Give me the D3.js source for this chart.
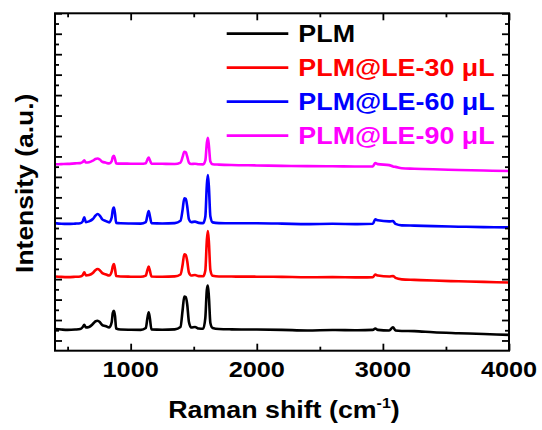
<!DOCTYPE html>
<html>
<head>
<meta charset="utf-8">
<script src="https://cdn.jsdelivr.net/npm/d3@7"></script>
<style>
  html, body { margin: 0; padding: 0; background: #fff; }
  svg { display: block; }
  text { font-family: "Liberation Sans", Arial, sans-serif; font-weight: bold; }
</style>
</head>
<body>
<svg id="chart" width="542" height="430"></svg>
<script>
// ---- data ----
const shifts = [400, 450, 500, 560, 600, 620, 632, 645, 670, 700, 720, 738, 755, 775, 800, 830, 850, 858, 867, 876, 885, 920, 1000, 1080, 1120, 1133, 1143, 1152, 1165, 1250, 1350, 1395, 1412, 1425, 1437, 1448, 1462, 1480, 1510, 1540, 1575, 1592, 1604, 1612, 1620, 1632, 1650, 1700, 1800, 2000, 2200, 2400, 2600, 2800, 2920, 2940, 2960, 3050, 3080, 3100, 3150, 3250, 3400, 3600, 3800, 4000];

const plm = [11.2, 10.7, 10.4, 10.7, 11.2, 13.2, 15.4, 12.7, 13.2, 16.1, 18.6, 19.3, 18.1, 15.1, 14.2, 12.7, 18.1, 26.9, 29.1, 23.9, 11.7, 10.7, 10.5, 10.4, 12.2, 22.0, 27.6, 22.0, 10.9, 10.5, 10.9, 13.2, 29.8, 43.0, 42.5, 35.7, 18.1, 12.7, 13.2, 11.7, 11.4, 22.0, 49.4, 53.6, 43.5, 17.1, 12.2, 11.2, 10.9, 10.7, 10.4, 9.8, 10.2, 10.0, 10.4, 11.7, 10.4, 9.8, 12.9, 9.8, 9.3, 9.1, 8.0, 7.1, 6.3, 5.5];

const plm30 = [62.6, 62.2, 62.0, 62.3, 62.6, 64.0, 66.7, 63.6, 64.0, 66.0, 68.7, 69.9, 68.8, 65.8, 64.8, 63.5, 67.5, 72.5, 74.8, 70.0, 63.0, 62.6, 62.4, 62.3, 63.5, 69.0, 72.2, 68.5, 62.6, 62.4, 62.7, 64.5, 74.0, 84.3, 83.6, 78.0, 66.5, 63.6, 64.0, 62.9, 62.8, 68.5, 98.0, 107.1, 97.0, 69.0, 63.3, 62.6, 62.5, 62.4, 62.2, 61.8, 62.0, 61.7, 61.8, 64.5, 63.5, 62.6, 63.1, 61.2, 59.8, 59.3, 58.6, 57.9, 57.3, 56.7];

const plm60 = [114.8, 114.2, 114.0, 114.3, 114.6, 116.5, 120.5, 115.8, 116.5, 118.8, 122.0, 123.7, 122.2, 118.5, 117.0, 115.5, 120.5, 127.5, 129.9, 124.0, 115.0, 114.6, 114.4, 114.3, 115.8, 122.5, 126.6, 122.0, 114.8, 114.4, 114.8, 117.0, 128.0, 139.0, 138.5, 131.5, 118.5, 115.8, 116.2, 115.0, 114.8, 121.0, 152.0, 161.8, 151.0, 121.5, 115.5, 114.8, 114.6, 114.6, 114.3, 113.8, 114.1, 113.8, 114.2, 118.6, 117.5, 116.5, 116.9, 114.0, 112.6, 112.3, 111.8, 111.3, 110.9, 110.6];

const plm90 = [172.3, 172.5, 172.7, 173.2, 173.5, 174.5, 176.2, 174.0, 174.3, 175.8, 177.5, 178.0, 177.0, 174.8, 174.0, 173.2, 175.5, 179.5, 180.7, 177.5, 173.2, 173.0, 172.9, 172.8, 173.4, 177.0, 178.8, 176.5, 173.0, 172.8, 172.6, 174.0, 179.5, 184.6, 184.0, 180.0, 174.0, 172.6, 172.8, 172.3, 172.2, 176.0, 193.0, 198.3, 191.0, 175.0, 172.3, 172.0, 171.6, 171.2, 170.8, 170.5, 170.4, 170.1, 170.3, 173.6, 172.5, 171.5, 170.2, 169.8, 168.4, 168.0, 167.4, 166.8, 166.2, 165.7];

const seriesNames = ["PLM", "PLM@LE-30 μL", "PLM@LE-60 μL", "PLM@LE-90 μL"];
const seriesColors = ["#000000", "#ff0000", "#0000ff", "#ff00ff"];
const seriesValues = [plm, plm30, plm60, plm90];

const xMajorTicks = [1000, 2000, 3000, 4000];
const xMinorTicks = [500, 1500, 2500, 3500];
const xDomain = [400, 4000];
const yDomain = [-10, 320];
const xTitle = "Raman shift (cm";
const xTitleSup = "-1";
const yTitle = "Intensity (a.u.)";

// ---- layout ----
const mLeft = 55, mRight = 509, mTop = 13.3, mBottom = 350.7;
const svg = d3.select("#chart");

const x = d3.scaleLinear().domain(xDomain).range([mLeft, mRight]);
const y = d3.scaleLinear().domain(yDomain).range([mBottom, mTop]);

// ---- series ----
const line = d3.line()
  .x((d, i) => x(shifts[i]))
  .y(d => y(d))
  .curve(d3.curveMonotoneX);

seriesValues.forEach((vals, k) => {
  svg.append("path")
    .datum(vals)
    .attr("d", line)
    .attr("fill", "none")
    .attr("stroke", seriesColors[k])
    .attr("stroke-width", 2.6)
    .attr("stroke-linejoin", "round");
});

// ---- axes (ticks inward) ----
const yMajor = d3.range(0, 321, 20);
const yMinor = d3.range(10, 320, 20);

function addAxis(axisFn, scale, values, size, transform) {
  const g = svg.append("g")
    .attr("transform", transform)
    .call(axisFn(scale).tickValues(values).tickSize(size).tickFormat(""));
  g.select(".domain").remove();
  g.selectAll(".tick line").attr("stroke", "#000").attr("stroke-width", 1.8);
  return g;
}
addAxis(d3.axisBottom, x, xMajorTicks, -7, `translate(0,${mBottom})`);
addAxis(d3.axisBottom, x, xMinorTicks, -4, `translate(0,${mBottom})`);
addAxis(d3.axisTop, x, xMajorTicks, -7, `translate(0,${mTop})`);
addAxis(d3.axisTop, x, xMinorTicks, -4, `translate(0,${mTop})`);
addAxis(d3.axisLeft, y, yMajor, -7, `translate(${mLeft},0)`);
addAxis(d3.axisLeft, y, yMinor, -4, `translate(${mLeft},0)`);
addAxis(d3.axisRight, y, yMajor, -7, `translate(${mRight},0)`);
addAxis(d3.axisRight, y, yMinor, -4, `translate(${mRight},0)`);

// frame
svg.append("rect")
  .attr("x", mLeft).attr("y", mTop)
  .attr("width", mRight - mLeft).attr("height", mBottom - mTop)
  .attr("fill", "none").attr("stroke", "#000").attr("stroke-width", 2);

// x tick labels
xMajorTicks.forEach(v => {
  svg.append("text")
    .attr("transform", `translate(${x(v)},377) scale(1.15,1)`)
    .attr("text-anchor", "middle")
    .attr("font-size", 22)
    .attr("fill", "#000")
    .text(v);
});

// x title
const xt = svg.append("text")
  .attr("transform", `translate(284,418.3) scale(1.14,1)`)
  .attr("text-anchor", "middle")
  .attr("font-size", 23.5)
  .attr("fill", "#000");
xt.append("tspan").text(xTitle);
xt.append("tspan").attr("font-size", 14).attr("dy", -10).text(xTitleSup);
xt.append("tspan").attr("dy", 10).text(")");

// y title
svg.append("text")
  .attr("transform", `translate(33.3,183.3) rotate(-90) scale(1.15,1)`)
  .attr("text-anchor", "middle")
  .attr("font-size", 23)
  .attr("fill", "#000")
  .text(yTitle);

// legend
seriesNames.forEach((name, k) => {
  const by = 42.3 + k * 34;
  svg.append("line")
    .attr("x1", 226.7).attr("x2", 288.3)
    .attr("y1", by - 8.7).attr("y2", by - 8.7)
    .attr("stroke", seriesColors[k]).attr("stroke-width", 2.6);
  svg.append("text")
    .attr("transform", `translate(298.3,${by}) scale(1.12,1)`)
    .attr("font-size", 24)
    .attr("fill", seriesColors[k])
    .text(name);
});
</script>
</body>
</html>
